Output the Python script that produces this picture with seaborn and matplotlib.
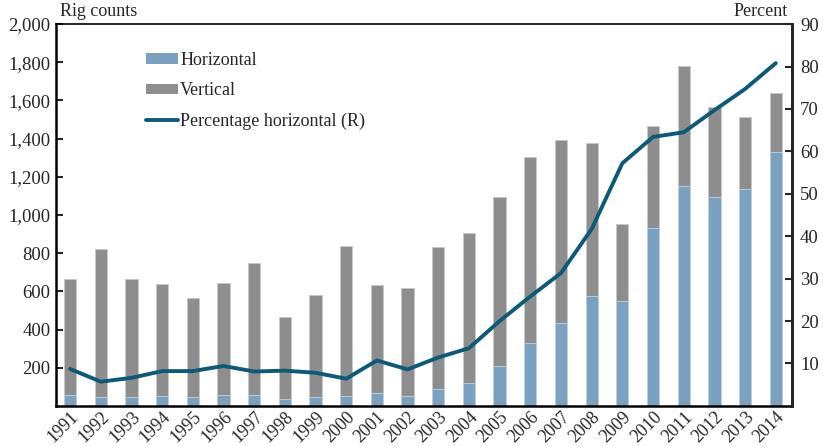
import numpy as np
import pandas as pd
import matplotlib
matplotlib.use("Agg")
import matplotlib.pyplot as plt
import seaborn as sns
from matplotlib.patches import Patch
from matplotlib.lines import Line2D

# data
years = list(range(1991, 2015))
total_rigs = [665, 820, 665, 640, 565, 645, 750, 465, 580, 835, 635, 620,
              830, 905, 1095, 1305, 1395, 1375, 955, 1465, 1780, 1565, 1515, 1640]
horizontal_rigs = [55, 47, 45, 52, 46, 58, 58, 38, 44, 52, 65, 50,
                   90, 120, 210, 330, 435, 578, 548, 932, 1152, 1092, 1135, 1330]
pct_horizontal = [8.7, 5.7, 6.6, 8.2, 8.2, 9.4, 8.1, 8.3, 7.8, 6.4, 10.7, 8.6,
                  11.4, 13.6, 20.0, 25.8, 31.3, 41.7, 57.2, 63.4, 64.5, 69.7, 74.7, 80.8]

blue = "#7aa2c0"
grey = "#8e8e8e"
teal = "#0b5a78"

sns.set_style("white")
plt.rcParams["font.family"] = ["Liberation Serif", "DejaVu Serif"]
plt.rcParams["font.size"] = 13

df = pd.DataFrame({"Year": [str(y) for y in years],
                   "Total": total_rigs,
                   "Horizontal": horizontal_rigs,
                   "Pct": pct_horizontal})

fig = plt.figure(figsize=(8.23, 4.46), dpi=100)
ax = fig.add_axes([0.068, 0.09, 0.894, 0.856])

sns.barplot(data=df, x="Year", y="Total", color=grey, width=0.4, saturation=1,
            edgecolor="#c8c8c8", linewidth=0.6, ax=ax)
sns.barplot(data=df, x="Year", y="Horizontal", color=blue, width=0.4, saturation=1,
            edgecolor="#c0d4e2", linewidth=0.6, ax=ax)

ax.set_ylim(0, 2000)
ax.set_xlim(-0.46, 23.52)
ax.set_yticks(range(200, 2001, 200))
ax.set_yticklabels([f"{v:,}" for v in range(200, 2001, 200)])
ax.set_xlabel("")
ax.set_ylabel("")
ax.tick_params(axis="y", direction="in", length=5, width=1.5, labelsize=13.5, pad=4)
ax.tick_params(axis="x", which="major", length=0, labelsize=13, pad=2)
ax.set_xticks(np.arange(0.5, 23, 1), minor=True)
ax.tick_params(axis="x", which="minor", direction="in", length=6, width=1.5)
for lbl in ax.get_xticklabels():
    lbl.set_rotation(45)
    lbl.set_ha("right")
    lbl.set_rotation_mode("anchor")
for s in ax.spines.values():
    s.set_linewidth(1.2)
    s.set_color("black")
ax.spines["left"].set_linewidth(1.8)
ax.spines["bottom"].set_linewidth(1.8)
ax.spines["right"].set_linewidth(1.8)

ax2 = ax.twinx()
sns.lineplot(x=np.arange(len(years)), y=df["Pct"], color=teal, linewidth=2.8, ax=ax2)
ax2.set_ylim(0, 90)
ax2.set_yticks(range(10, 91, 10))
ax2.set_ylabel("")
ax2.tick_params(axis="y", direction="in", length=5, width=1.5, labelsize=13.5, pad=6)
for s in ax2.spines.values():
    s.set_visible(False)
ax2.spines["right"].set_visible(True)
ax2.spines["right"].set_linewidth(1.8)

fig.text(0.073, 0.955, "Rig counts", fontsize=13, ha="left", va="bottom")
fig.text(0.957, 0.955, "Percent", fontsize=13, ha="right", va="bottom")

handles = [Patch(facecolor=blue, edgecolor="none"),
           Patch(facecolor=grey, edgecolor="none"),
           Line2D([0], [0], color=teal, linewidth=2.8)]
ax.legend(handles, ["Horizontal", "Vertical", "Percentage horizontal (R)"],
          loc="upper left", bbox_to_anchor=(0.1, 0.97), frameon=False,
          fontsize=13, handlelength=1.8, handleheight=0.5, handletextpad=0.1,
          labelspacing=0.75)

fig.savefig("out.png", dpi=100)
